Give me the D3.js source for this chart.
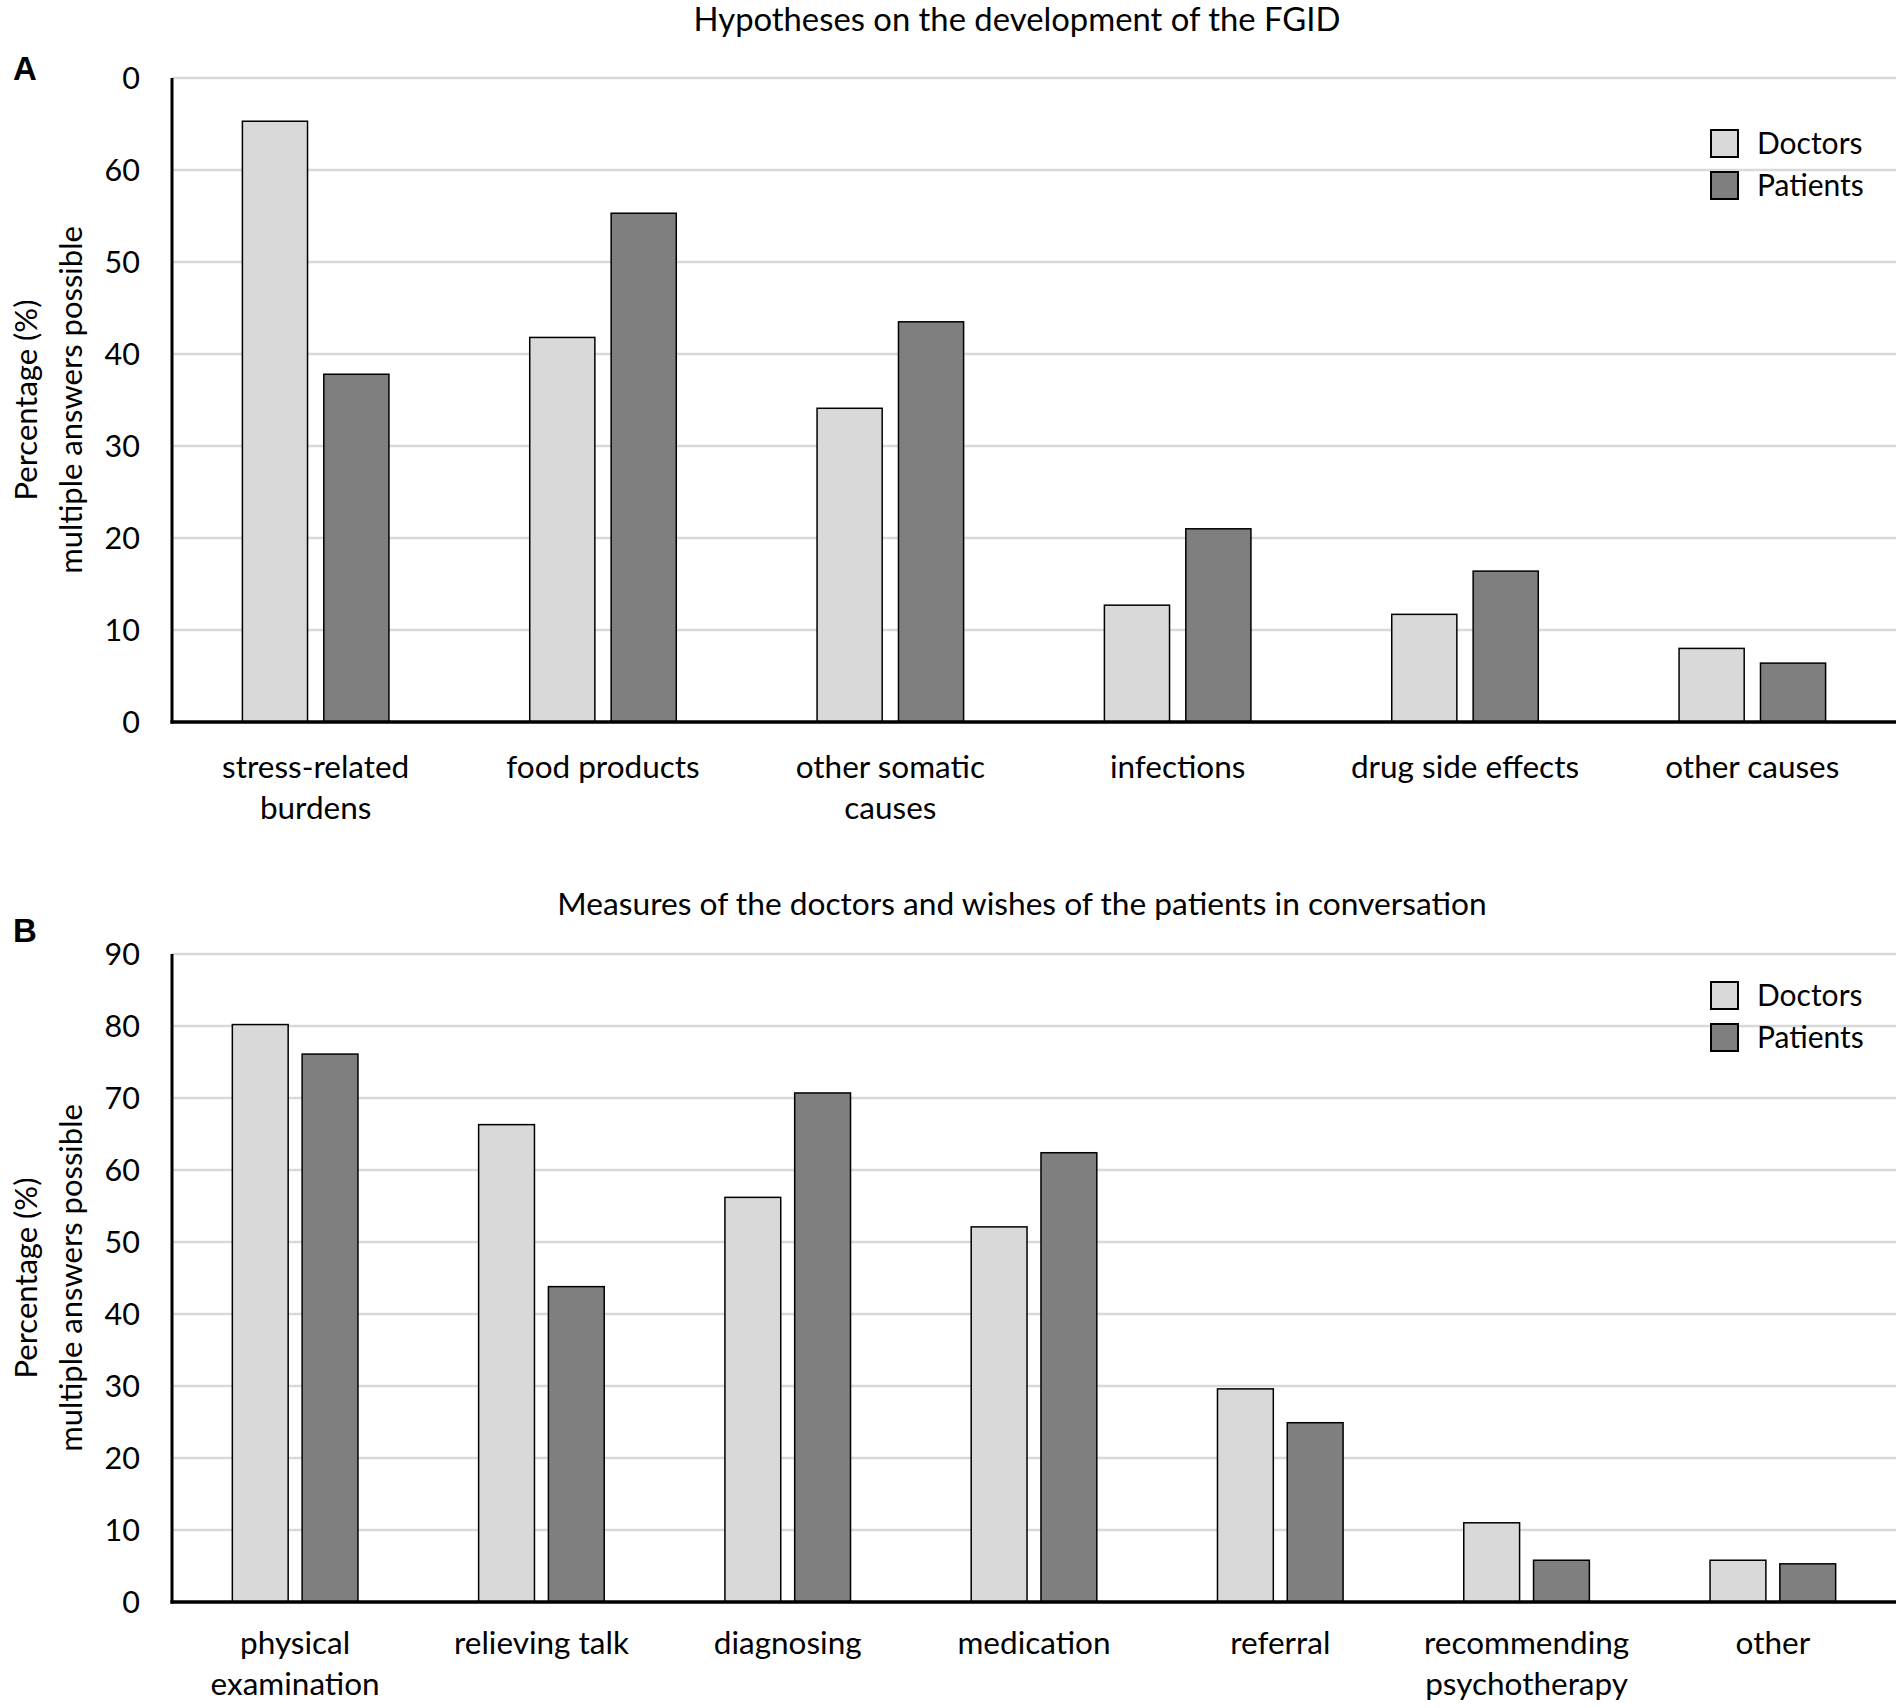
<!DOCTYPE html>
<html>
<head>
<meta charset="utf-8">
<script src="https://cdn.jsdelivr.net/npm/d3@7"></script>
<style>
  html, body { margin: 0; padding: 0; background: #fff; }
  svg text { font-family: Lato, "Open Sans", sans-serif; fill: #000; }
</style>
</head>
<body>
<svg id="chart" width="1902" height="1708"></svg>
<script>
// ---------- DATA ----------
const seriesNames = ["Doctors", "Patients"];

const titleA = "Hypotheses on the development of the FGID";
const categoriesA = [
  ["stress-related", "burdens"],
  ["food products"],
  ["other somatic", "causes"],
  ["infections"],
  ["drug side effects"],
  ["other causes"]
];
const doctorsA  = [65.3, 41.8, 34.1, 12.7, 11.7, 8.0];
const patientsA = [37.8, 55.3, 43.5, 21.0, 16.4, 6.4];
const tickValuesA = [0, 10, 20, 30, 40, 50, 60, 70];
const tickLabelsA = ["0", "10", "20", "30", "40", "50", "60", "0"];

const titleB = "Measures of the doctors and wishes of the patients in conversation";
const categoriesB = [
  ["physical", "examination"],
  ["relieving talk"],
  ["diagnosing"],
  ["medication"],
  ["referral"],
  ["recommending", "psychotherapy"],
  ["other"]
];
const doctorsB  = [80.2, 66.3, 56.2, 52.1, 29.6, 11.0, 5.8];
const patientsB = [76.1, 43.8, 70.7, 62.4, 24.9, 5.8, 5.3];
const tickValuesB = [0, 10, 20, 30, 40, 50, 60, 70, 80, 90];
const tickLabelsB = ["0", "10", "20", "30", "40", "50", "60", "70", "80", "90"];

const yTitleLines = ["Percentage (%)", "multiple answers possible"];

// ---------- STYLE ----------
const colors = { Doctors: "#d9d9d9", Patients: "#7f7f7f" };
const FONT = 31.5;
const TICKFONT = 30.5;
const LEGFONT = 30;

const svg = d3.select("#chart");

function panel(cfg) {
  const g = svg.append("g");
  const n = cfg.cats.length;
  const x = d3.scaleBand().domain(d3.range(n)).range([cfg.x0, cfg.x1]).padding(0);
  const bw = x.bandwidth();
  const groupW = bw * 0.51;
  const x1 = d3.scaleBand().domain(seriesNames).range([-groupW / 2, groupW / 2]).paddingInner(0.2).paddingOuter(0);
  const y = d3.scaleLinear().domain(cfg.domain).range([cfg.yBase, cfg.yTop]);

  // gridlines
  g.append("g").selectAll("line").data(cfg.ticks.filter(t => t > 0)).join("line")
    .attr("x1", cfg.x0).attr("x2", cfg.x1)
    .attr("y1", d => y(d)).attr("y2", d => y(d))
    .attr("stroke", "#d9d9d9").attr("stroke-width", 2.5);

  // y axis with labels
  const yAxis = d3.axisLeft(y).tickValues(cfg.ticks)
    .tickFormat((d, i) => cfg.tickLabels[i]).tickSize(0).tickPadding(0);
  const ya = g.append("g").attr("transform", `translate(${cfg.x0},0)`).call(yAxis);
  ya.select(".domain").remove();
  ya.selectAll("text").attr("x", -32).attr("dy", "0.35em")
    .style("font-family", "Lato, 'Open Sans', sans-serif").style("font-size", TICKFONT + "px").attr("fill", "#000");

  // bars
  const rows = cfg.cats.map((c, i) => ({ i, vals: [cfg.d[i], cfg.p[i]] }));
  const grp = g.append("g").selectAll("g").data(rows).join("g")
    .attr("transform", d => `translate(${x(d.i) + bw / 2},0)`);
  grp.selectAll("rect").data(d => d.vals.map((v, k) => ({ s: seriesNames[k], v }))).join("rect")
    .attr("x", d => x1(d.s)).attr("width", x1.bandwidth())
    .attr("y", d => y(d.v)).attr("height", d => y(0) - y(d.v))
    .attr("fill", d => colors[d.s]).attr("stroke", "#000").attr("stroke-width", 1.5);

  // axis lines
  g.append("line").attr("x1", cfg.x0).attr("x2", cfg.x0).attr("y1", y(cfg.domain[1])).attr("y2", y(0) + 1.5)
    .attr("stroke", "#000").attr("stroke-width", 3);
  g.append("line").attr("x1", cfg.x0 - 1.5).attr("x2", cfg.x1).attr("y1", y(0)).attr("y2", y(0))
    .attr("stroke", "#000").attr("stroke-width", 3.5);

  // category labels
  const lab = g.append("g").selectAll("text").data(rows).join("text")
    .attr("text-anchor", "middle")
    .attr("x", d => x(d.i) + bw / 2)
    .attr("y", cfg.labY)
    .style("font-size", FONT + "px");
  lab.selectAll("tspan").data(d => cfg.cats[d.i].map((t, k) => ({ t, k, cx: x(d.i) + bw / 2 }))).join("tspan")
    .attr("x", d => d.cx).attr("dy", d => d.k === 0 ? 0 : 41).text(d => d.t);

  // y-title
  const cy = (y(0) + y(cfg.domain[1])) / 2;
  yTitleLines.forEach((t, k) => {
    g.append("text").attr("transform", `translate(${k === 0 ? 37 : 82},${cy}) rotate(-90)`)
      .attr("text-anchor", "middle").style("font-size", "31px").text(t);
  });

  // title
  g.append("text").attr("x", cfg.titleX).attr("y", cfg.titleY).attr("text-anchor", "middle")
    .style("font-size", cfg.titleFont + "px").text(cfg.title);

  // panel letter
  g.append("text").attr("x", 13).attr("y", cfg.letterY)
    .style("font-family", "'Liberation Sans', Arial, sans-serif").style("font-weight", "bold")
    .style("font-size", "33px").text(cfg.letter);

  // legend
  const lg = g.append("g").selectAll("g").data(seriesNames).join("g")
    .attr("transform", (d, k) => `translate(1711,${cfg.legY + k * 42})`);
  lg.append("rect").attr("x", 0).attr("y", 0).attr("width", 27).attr("height", 27)
    .attr("fill", d => colors[d]).attr("stroke", "#000").attr("stroke-width", 2);
  lg.append("text").attr("x", 46).attr("y", 24).style("font-size", LEGFONT + "px").text(d => d);
}

panel({
  letter: "A", letterY: 80, title: titleA, titleX: 1017, titleY: 31, titleFont: 32.8,
  cats: categoriesA, d: doctorsA, p: patientsA,
  ticks: tickValuesA, tickLabels: tickLabelsA, domain: [0, 70],
  x0: 172, x1: 1896, yBase: 722, yTop: 78, labY: 778, legY: 130
});
panel({
  letter: "B", letterY: 942, title: titleB, titleX: 1022, titleY: 915, titleFont: 31.7,
  cats: categoriesB, d: doctorsB, p: patientsB,
  ticks: tickValuesB, tickLabels: tickLabelsB, domain: [0, 90],
  x0: 172, x1: 1896, yBase: 1602, yTop: 954, labY: 1654, legY: 982
});
</script>
</body>
</html>
